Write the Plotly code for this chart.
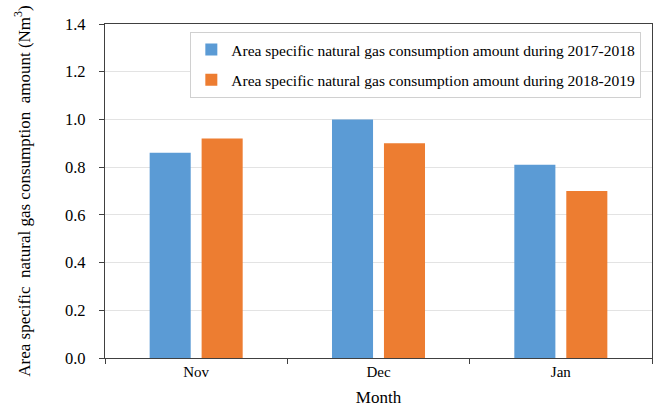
import plotly.graph_objects as go

months = ["Nov", "Dec", "Jan"]
series_2017_2018 = [0.86, 1.00, 0.81]
series_2018_2019 = [0.92, 0.90, 0.70]
name_a = "Area specific natural gas consumption amount during 2017-2018"
name_b = "Area specific natural gas consumption amount during 2018-2019"
y_ticks = [0.0, 0.2, 0.4, 0.6, 0.8, 1.0, 1.2, 1.4]

FONT = "Liberation Serif"

fig = go.Figure()
fig.add_trace(go.Bar(x=months, y=series_2017_2018, name=name_a,
                     marker=dict(color="#5B9BD5", line=dict(width=0)),
                     legendgroup="a"))
fig.add_trace(go.Bar(x=months, y=series_2018_2019, name=name_b,
                     marker=dict(color="#ED7D31", line=dict(width=0)),
                     legendgroup="b"))

fig.update_layout(
    width=661, height=410,
    margin=dict(l=105, r=9, t=24, b=52, autoexpand=False),
    paper_bgcolor="white", plot_bgcolor="white",
    barmode="group", bargap=0.43, bargroupgap=0.21,
    font=dict(family=FONT, size=16, color="black"),
    showlegend=True,
    legend=dict(
        x=0.156, y=0.976, xanchor="left", yanchor="top",
        bgcolor="white", bordercolor="#d0d0d0", borderwidth=1,
        font=dict(family=FONT, size=15.5, color="black"),
        tracegroupgap=7, itemsizing="constant",
    ),
    xaxis=dict(
        title=dict(text="Month", font=dict(family=FONT, size=17), standoff=12),
        type="category", tickson="boundaries", automargin=False,
        ticks="outside", ticklen=5, tickcolor="#404040",
        showline=True, linecolor="#404040", linewidth=1.2, mirror=True,
        showgrid=False, tickfont=dict(family=FONT, size=15),
    ),
    yaxis=dict(
        title=dict(text="Area specific  natural gas consumption  amount (Nm<sup>3</sup>)",
                   font=dict(family=FONT, size=17), standoff=30),
        range=[0, 1.4], tickvals=y_ticks, ticktext=[f"{v:.1f}" for v in y_ticks],
        automargin=False, ticklabelstandoff=10,
        ticks="outside", ticklen=5, tickcolor="#404040",
        showline=True, linecolor="#404040", linewidth=1.2, mirror=True,
        showgrid=True, gridcolor="#e3e3e3", gridwidth=1,
        zeroline=False, tickfont=dict(family=FONT, size=16.5),
    ),
)

fig.write_html("out.html", config={"displayModeBar": False},
               post_script="document.body.style.margin='0';document.body.style.padding='0';")
